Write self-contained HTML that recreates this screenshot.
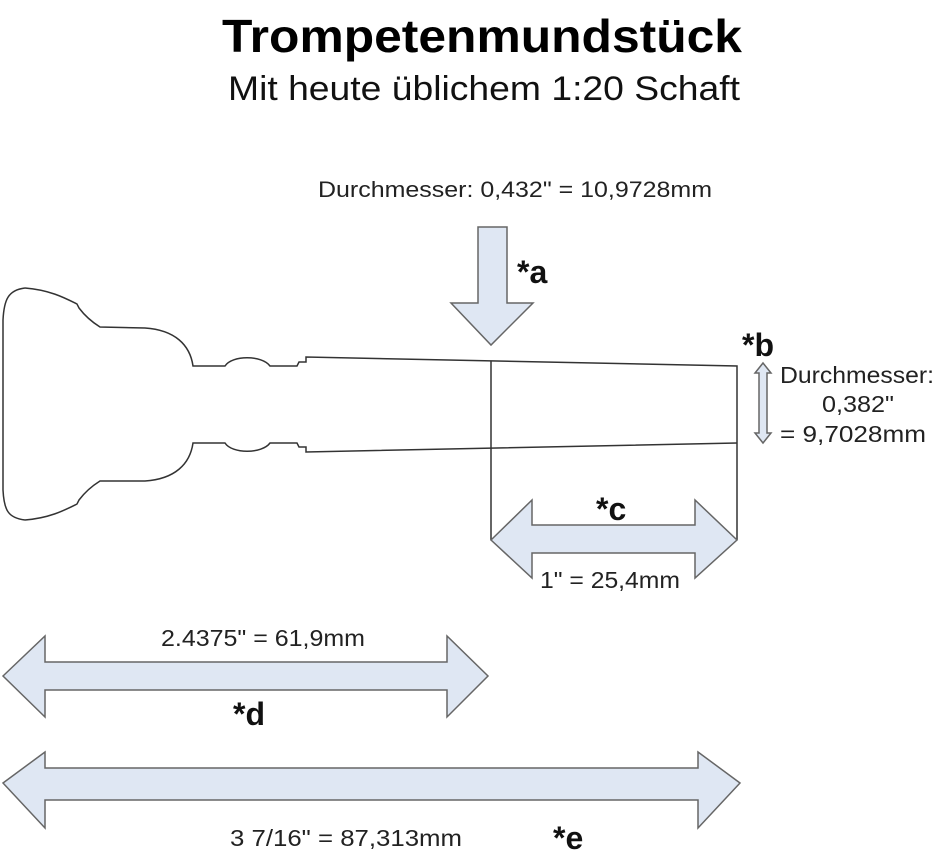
<!DOCTYPE html>
<html><head><meta charset="utf-8"><style>
html,body{margin:0;padding:0;background:#fff;}
svg{display:block;}
</style></head><body>
<svg width="935" height="863" viewBox="0 0 935 863" xmlns="http://www.w3.org/2000/svg" font-family="Liberation Sans, Arial, sans-serif">
<text x="222" y="52" font-size="46" font-weight="bold" fill="#000" textLength="520" lengthAdjust="spacingAndGlyphs">Trompetenmundstück</text>
<text x="228" y="100" font-size="34" fill="#111" textLength="512" lengthAdjust="spacingAndGlyphs">Mit heute üblichem 1:20 Schaft</text>
<text x="318" y="197" font-size="22" fill="#222" textLength="394" lengthAdjust="spacingAndGlyphs">Durchmesser: 0,432" = 10,9728mm</text>

<g fill="none" stroke="#333" stroke-width="1.5">
<path d="M25,288 C50,290 65,298 77,304 L79,308 C85,316 92,322 100,327 L145,328 C175,330 190,345 193,366 L225,366 C232,355 262,355 270,366 L297,366 L299,362 L306,362 L306,357 L737,366 L737,540"/>
<path d="M25,520 C50,518 65,510 77,504 L79,500 C85,492 92,486 100,481 L145,481 C175,479 190,464 193,443 L225,443 C232,454 262,454 270,443 L297,443 L299,447 L306,447 L306,452 L737,443"/>
<path d="M25,288 C8,290 4,300 3,320 L3,490 C4,510 8,518 25,520"/>
<path d="M491,361 L491,540"/>
</g>

<g fill="#dfe7f3" stroke="#666" stroke-width="1.5" stroke-linejoin="miter">
<polygon points="478,227 507,227 507,303 533,303 491,345 451,303 478,303"/>
<polygon points="491,540 532,500 532,525 695,525 695,500 737,540 695,578 695,553 532,553 532,578"/>
<polygon points="763,363 771,373 767,373 767,433 771,433 763,443 755,433 759,433 759,373 755,373"/>
<polygon points="3,676 45,636 45,662 447,662 447,636 488,676 447,717 447,690 45,690 45,717"/>
<polygon points="3,783 45,752 45,768 698,768 698,752 740,783 698,828 698,800 45,800 45,828"/>
</g>

<g font-weight="bold" font-size="32" fill="#111">
<text x="517" y="283">*a</text>
<text x="742" y="356">*b</text>
<text x="596" y="520">*c</text>
<text x="233" y="725">*d</text>
<text x="553" y="849">*e</text>
</g>
<g font-size="23" fill="#222">
<text x="780" y="383" textLength="154" lengthAdjust="spacingAndGlyphs">Durchmesser:</text>
<text x="822" y="412" textLength="72" lengthAdjust="spacingAndGlyphs">0,382"</text>
<text x="780" y="442" textLength="146" lengthAdjust="spacingAndGlyphs">= 9,7028mm</text>
<text x="540" y="588" textLength="140" lengthAdjust="spacingAndGlyphs">1" = 25,4mm</text>
<text x="161" y="646" textLength="204" lengthAdjust="spacingAndGlyphs">2.4375" = 61,9mm</text>
<text x="230" y="846" textLength="232" lengthAdjust="spacingAndGlyphs">3  7/16" = 87,313mm</text>
</g>
</svg>
</body></html>
